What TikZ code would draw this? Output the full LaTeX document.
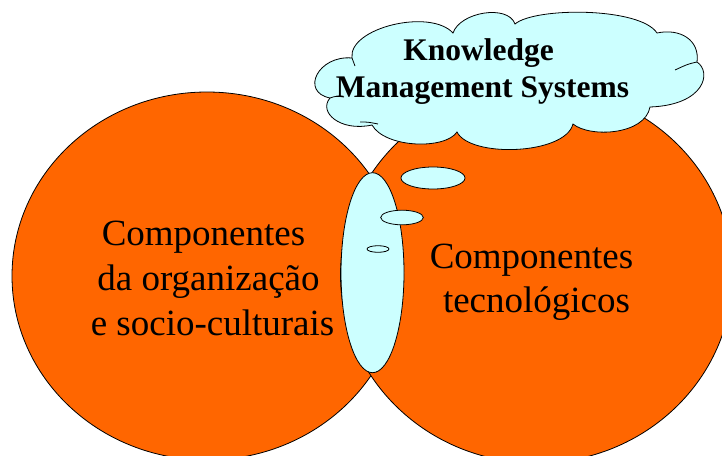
\documentclass[tikz,border=0pt]{standalone}
\usepackage{fontspec}
\setmainfont{Liberation Serif}
\definecolor{kmorange}{RGB}{255,102,0}
\definecolor{kmcyan}{RGB}{204,255,255}
\begin{document}
\begin{tikzpicture}[x=1pt,y=-1pt, line width=0.8pt,
  blob/.style={draw=black, fill=kmorange},
  bubble/.style={draw=black, fill=kmcyan},
  bigtxt/.style={font=\fontsize{37}{44}\selectfont, anchor=base, inner sep=0pt},
  cloudtxt/.style={font=\bfseries\fontsize{31.5}{37}\selectfont, anchor=base, inner sep=0pt}]
\useasboundingbox (0,0) rectangle (722,455);
\clip (0,0) rectangle (722,455);
% two overlapping sets
\draw[blob] (207,276) ellipse [x radius=195, y radius=184];
\draw[blob] (536.5,275) ellipse [x radius=196, y radius=188];
% intersection
\draw[bubble] (372.5,272.7) ellipse [x radius=31.5, y radius=100];
% thought bubbles
\draw[bubble] (433,178) ellipse [x radius=32, y radius=11];
\draw[bubble] (402,217.5) ellipse [x radius=21.3, y radius=7.3];
\draw[bubble] (378,249) ellipse [x radius=11, y radius=3.3];
% cloud
\draw[bubble] (330,98) .. controls (300,92) and (318,55) .. (352,58)
 .. controls (348,28) and (430,8) .. (453,33)
 .. controls (460,12) and (508,4) .. (515,24)
 .. controls (535,7) and (640,7) .. (657,33)
 .. controls (680,28) and (700,40) .. (697,62)
 .. controls (712,72) and (705,105) .. (650,107)
 .. controls (645,135) and (590,138) .. (573,124)
 .. controls (565,155) and (470,158) .. (457,132)
 .. controls (445,150) and (385,148) .. (372,125)
 .. controls (340,132) and (318,112) .. (330,98) -- cycle;
\draw (330,98) .. controls (336,96) .. (344,97);
\draw (352,58) .. controls (354,62) .. (355,66);
\draw (697,62) .. controls (688,64) .. (675,70);
\draw (360,122) .. controls (368,122) .. (378,124);
% texts
\node[cloudtxt] (k1) at (478.5,60) {Knowledge};
\node[cloudtxt] (k2) at (482.5,97) {Management Systems};
\node[bigtxt] (l1) at (203.5,245) {Componentes};
\node[bigtxt] (l2) at (208.5,290) {da organização};
\node[bigtxt] (l3) at (212.5,335) {e socio-culturais};
\node[bigtxt] (r1) at (531.5,268) {Componentes};
\node[bigtxt] (r2) at (536.5,312) {tecnológicos};
\end{tikzpicture}
\end{document}
